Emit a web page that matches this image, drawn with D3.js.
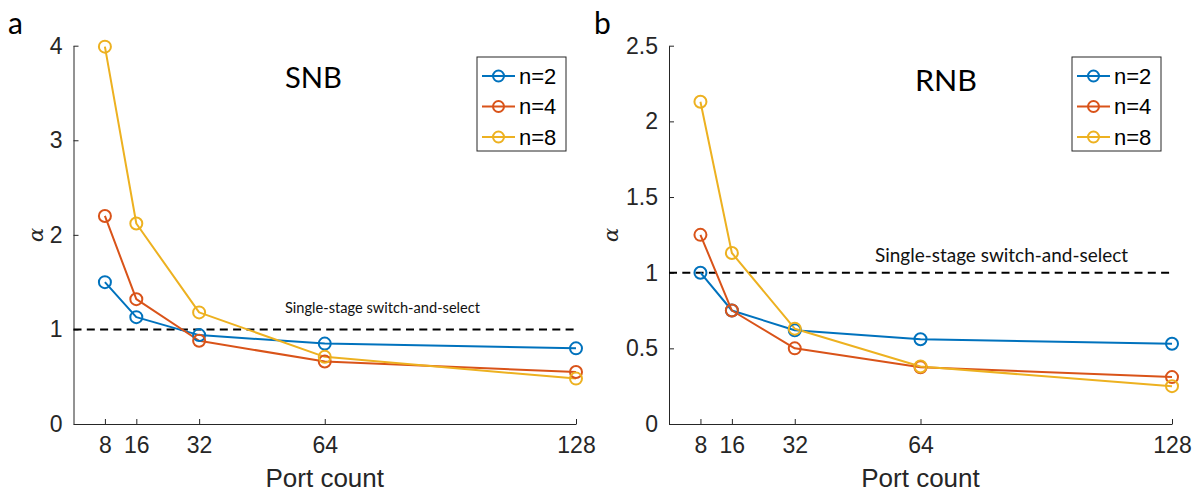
<!DOCTYPE html>
<html>
<head>
<meta charset="utf-8">
<script src="https://cdn.jsdelivr.net/npm/d3@7"></script>
<style>
  html, body { margin: 0; padding: 0; background: #fff; }
  svg { display: block; }
  .tick text { font-family: "Liberation Sans", Arial, sans-serif; fill: #262626; }
</style>
</head>
<body>
<svg id="chart" width="1198" height="494"></svg>
<script>
// Port counts on the x axis
const portCounts = [8, 16, 32, 64, 128];
const seriesNames = ["n=2", "n=4", "n=8"];
const seriesColors = ["#0072BD", "#D95319", "#EDB120"];

// Panel a: SNB
const snbN2 = [1.50, 1.13, 0.94, 0.85, 0.80];
const snbN4 = [2.20, 1.32, 0.88, 0.66, 0.55];
const snbN8 = [3.99, 2.12, 1.18, 0.71, 0.48];
const snbYTicks = [0, 1, 2, 3, 4];

// Panel b: RNB
const rnbN2 = [1.00, 0.75, 0.62, 0.56, 0.53];
const rnbN4 = [1.25, 0.75, 0.50, 0.375, 0.31];
const rnbN8 = [2.13, 1.13, 0.63, 0.38, 0.25];
const rnbYTicks = [0, 0.5, 1, 1.5, 2, 2.5];

const referenceLevel = 1;
const referenceLabel = "Single-stage switch-and-select";

const svg = d3.select("#chart");
const axisColor = "#262626";

function drawPanel(p) {
  const x = d3.scaleLinear().domain([0, 128]).range([p.left, p.right]);
  const y = d3.scaleLinear().domain([0, p.yMax]).range([p.bottom, p.top]);
  const g = svg.append("g");

  // Axes (inward ticks, no box)
  const xAxis = g.append("g")
    .attr("transform", `translate(0,${p.bottom})`)
    .call(d3.axisBottom(x).tickValues(portCounts).tickSizeInner(-5).tickSizeOuter(0).tickPadding(13));
  const yAxis = g.append("g")
    .attr("transform", `translate(${p.left},0)`)
    .call(d3.axisLeft(y).tickValues(p.yTicks).tickFormat(d3.format("~g")).tickSizeInner(-5).tickSizeOuter(0).tickPadding(11));
  [xAxis, yAxis].forEach(a => {
    a.select(".domain").attr("stroke", axisColor).attr("stroke-width", 1);
    a.selectAll(".tick line").attr("stroke", axisColor).attr("stroke-width", 1);
    a.selectAll(".tick text").style("font-size", "23px");
  });
  xAxis.selectAll(".tick text").attr("dy", "0.71em");

  // Reference line
  g.append("line")
    .attr("x1", x(0)).attr("x2", x(128))
    .attr("y1", y(referenceLevel)).attr("y2", y(referenceLevel))
    .attr("stroke", "#000").attr("stroke-width", 2)
    .attr("stroke-dasharray", "8,5.3");
  g.append("text")
    .attr("x", p.refX).attr("y", p.refY)
    .attr("font-family", "Lato, 'Open Sans', sans-serif")
    .attr("font-size", p.refSize)
    .attr("textLength", p.refWidth).attr("lengthAdjust", "spacingAndGlyphs")
    .attr("fill", "#111")
    .text(referenceLabel);

  // Series
  const line = d3.line().x((d, i) => x(portCounts[i])).y(d => y(d));
  p.series.forEach((vals, k) => {
    g.append("path").datum(vals)
      .attr("d", line).attr("fill", "none")
      .attr("stroke", seriesColors[k]).attr("stroke-width", 2)
      .attr("stroke-linejoin", "round");
  });
  p.series.forEach((vals, k) => {
    g.selectAll(null).data(vals).enter().append("circle")
      .attr("cx", (d, i) => x(portCounts[i])).attr("cy", d => y(d))
      .attr("r", 6).attr("fill", "none")
      .attr("stroke", seriesColors[k]).attr("stroke-width", 2);
  });

  // Title inside the axes
  g.append("text")
    .attr("x", p.titleX).attr("y", p.titleY)
    .attr("font-family", "Lato, 'Open Sans', sans-serif")
    .attr("font-size", 29)
    .attr("textLength", p.titleWidth).attr("lengthAdjust", "spacingAndGlyphs")
    .attr("fill", "#000")
    .text(p.title);

  // Y label
  g.append("text")
    .attr("transform", `translate(${p.alphaX},${(p.top + p.bottom) / 2}) rotate(-90)`)
    .attr("text-anchor", "middle").attr("dy", "0.35em")
    .attr("font-family", "'DejaVu Serif', serif").attr("font-style", "italic")
    .attr("font-size", 21).attr("fill", axisColor)
    .text("α");

  // X label
  g.append("text")
    .attr("x", (p.left + p.right) / 2).attr("y", p.bottom + 63)
    .attr("text-anchor", "middle")
    .attr("font-family", "'Liberation Sans', Arial, sans-serif")
    .attr("font-size", 26).attr("fill", axisColor)
    .text("Port count");

  // Panel letter
  g.append("text")
    .attr("x", p.letterX).attr("y", 34)
    .attr("font-family", "Lato, 'Open Sans', sans-serif")
    .attr("font-size", 30).attr("fill", "#000")
    .text(p.letter);

  // Legend
  const lg = g.append("g").attr("transform", `translate(${p.legendX},${p.legendY})`);
  lg.append("rect").attr("width", 89).attr("height", 94)
    .attr("fill", "#fff").attr("stroke", axisColor).attr("stroke-width", 1);
  seriesNames.forEach((name, k) => {
    const cy = 19 + k * 30.5;
    lg.append("line").attr("x1", 5).attr("x2", 38).attr("y1", cy).attr("y2", cy)
      .attr("stroke", seriesColors[k]).attr("stroke-width", 2);
    lg.append("circle").attr("cx", 21.5).attr("cy", cy).attr("r", 5.5)
      .attr("fill", "none").attr("stroke", seriesColors[k]).attr("stroke-width", 2);
    lg.append("text").attr("x", 42).attr("y", cy).attr("dy", "0.36em")
      .attr("font-family", "'Liberation Sans', Arial, sans-serif")
      .attr("font-size", 22).attr("fill", "#000")
      .text(name);
  });
}

drawPanel({
  left: 73.5, right: 576, top: 45.7, bottom: 424, yMax: 4, yTicks: snbYTicks,
  series: [snbN2, snbN4, snbN8],
  title: "SNB", titleX: 285, titleY: 88, titleWidth: 57,
  refX: 285, refY: 313, refSize: 16, refWidth: 195,
  alphaX: 36, letter: "a", letterX: 8,
  legendX: 477, legendY: 57
});

drawPanel({
  left: 669, right: 1172, top: 45.7, bottom: 424, yMax: 2.5, yTicks: rnbYTicks,
  series: [rnbN2, rnbN4, rnbN8],
  title: "RNB", titleX: 915, titleY: 91, titleWidth: 62,
  refX: 875, refY: 262, refSize: 20, refWidth: 253,
  alphaX: 611, letter: "b", letterX: 594,
  legendX: 1072, legendY: 57
});
</script>
</body>
</html>
